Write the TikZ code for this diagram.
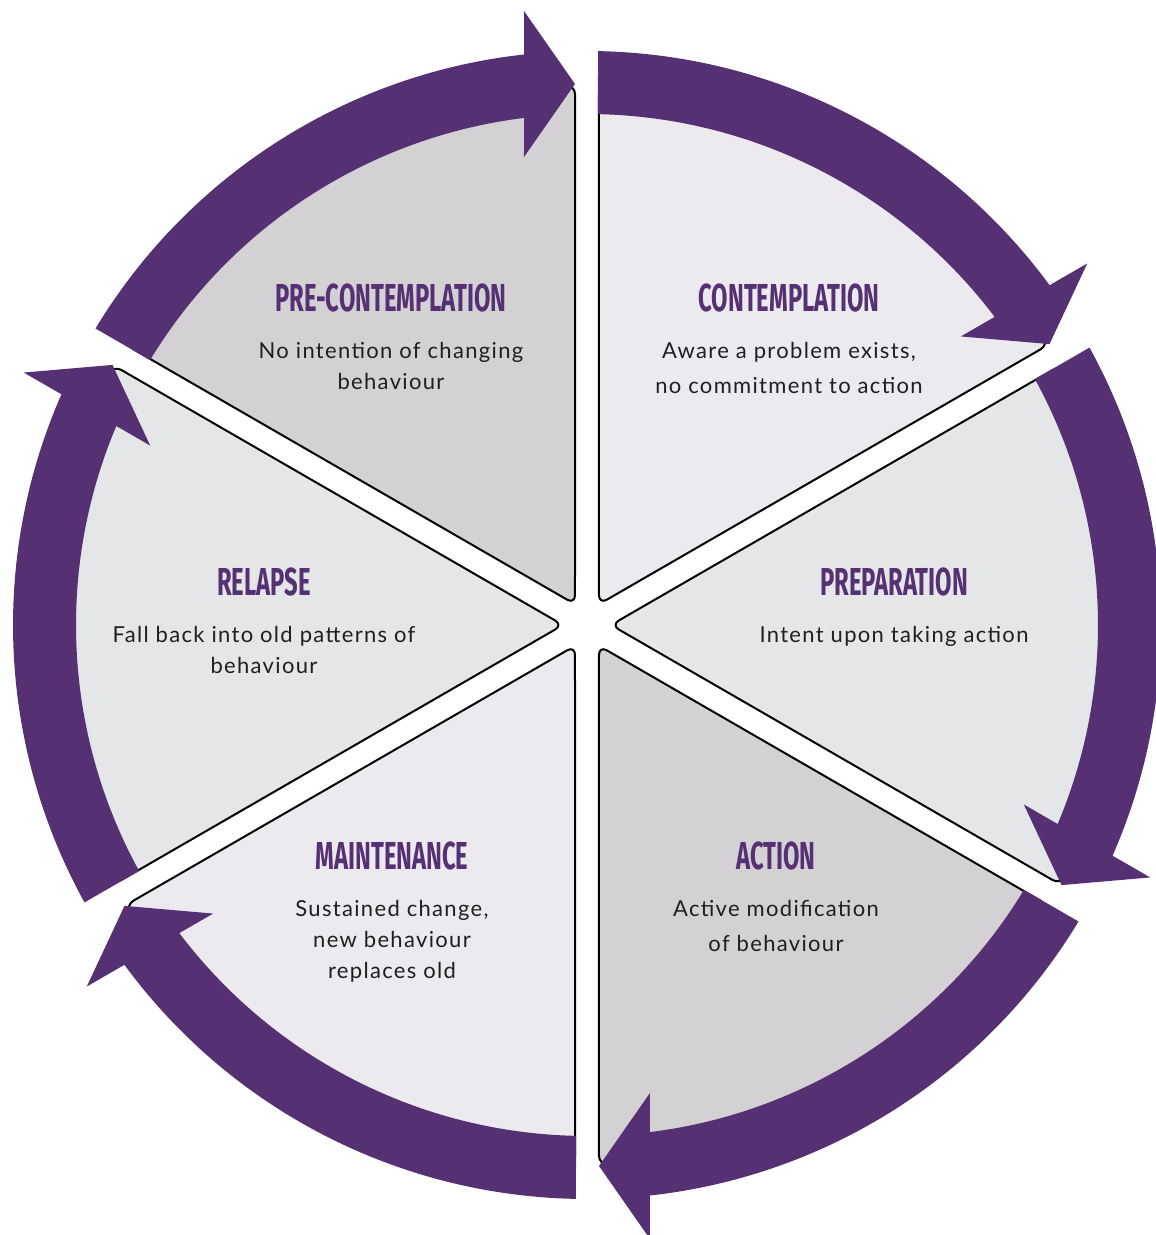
\documentclass[tikz,border=0pt]{standalone}
\usepackage{fontspec}
\setmainfont{Lato}[LetterSpace=6]
\newfontfamily\headfont[FakeStretch=0.61]{Fira Sans}
\usetikzlibrary{positioning}

\definecolor{ringpurple}{HTML}{553173}
\definecolor{stagegrey}{HTML}{D3D1D4}
\definecolor{stagelilac}{HTML}{ECEAEF}
\definecolor{stagepale}{HTML}{E5E6E8}

\begin{document}
\begin{tikzpicture}[
    x=1pt, y=1pt,
    stage/.style={draw=black, line width=2pt, rounded corners=9pt},
    ringarrow/.style={fill=ringpurple},
    title/.style={inner sep=0pt, text=ringpurple,
                  font=\headfont\bfseries\fontsize{39}{39}\selectfont},
    desc/.style={inner sep=0pt, align=center, text=black!88,
                 font=\fontsize{22}{31}\selectfont}
]
  \useasboundingbox (-587,-610) rectangle (569,625);
  \clip (-587,-610) rectangle (569,625);

  % Six wedges, one per stage
  \foreach \r/\col in {0/stagegrey, -60/stagelilac, -120/stagepale,
                       -180/stagegrey, -240/stagelilac, -300/stagepale}
    \draw[stage, fill=\col, rotate=\r] (120:24) -- (91.27:540)
      arc[start angle=91.27, end angle=148.73, radius=540] -- cycle;

  % Ring of arrows, running clockwise
  \foreach \r in {0,60,...,300}
    \fill[ringarrow, rotate=\r] (148.9:574)
      arc[start angle=148.9, end angle=96.3, radius=574]
      -- (-63,614) -- (-12,541) -- (-63,468) -- (97.08:511)
      arc[start angle=97.08, end angle=148.77, radius=511] -- cycle;

  % Stage labels
  \node[title] (precon) at (-196,327) {PRE-CONTEMPLATION};
  \node[desc, below=30pt of precon] (precondesc)
    {No intention of changing\\behaviour};

  \node[title] (contemp) at (202,327) {CONTEMPLATION};
  \node[desc, below=30pt of contemp, font=\fontsize{22}{35}\selectfont] (contempdesc)
    {Aware a problem exists,\\no commitment to action};

  \node[title] (prep) at (307,43) {PREPARATION};
  \node[desc, below=30pt of prep] (prepdesc) {Intent upon taking action};

  \node[title] (action) at (189,-231) {ACTION};
  \node[desc, below=30pt of action, font=\fontsize{22}{35}\selectfont] (actiondesc)
    {Active modification\\of behaviour};

  \node[title] (maint) at (-195,-231) {MAINTENANCE};
  \node[desc, below=30pt of maint] (maintdesc)
    {Sustained change,\\new behaviour\\replaces old};

  \node[title] (relapse) at (-323,43) {RELAPSE};
  \node[desc, below=30pt of relapse] (relapsedesc)
    {Fall back into old patterns of\\behaviour};
\end{tikzpicture}
\end{document}
